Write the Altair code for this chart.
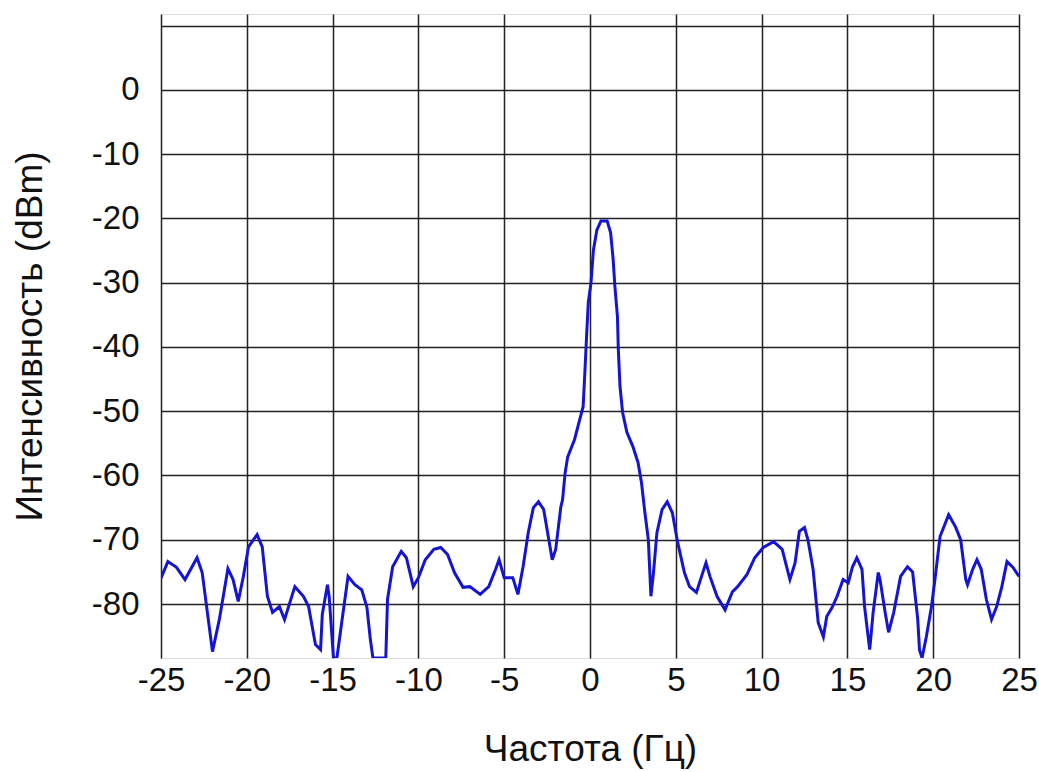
import altair as alt
import pandas as pd

freq = [-25.0, -24.6, -24.1, -23.6, -22.9, -22.6, -22.0, -21.6, -21.1, -20.8, -20.5, -20.2,
        -19.9, -19.4, -19.1, -18.8, -18.5, -18.1, -17.8, -17.2, -16.7, -16.4, -16.0, -15.7,
        -15.6, -15.3, -15.2, -14.95, -14.75, -14.5, -14.1, -13.7, -13.3, -13.0, -12.8, -12.65,
        -11.9, -11.8, -11.5, -11.0, -10.7, -10.3, -10.0, -9.6, -9.1, -8.7, -8.3, -7.9, -7.4,
        -7.0, -6.4, -5.9, -5.5, -5.3, -5.0, -4.5, -4.2, -3.9, -3.6, -3.3, -3.0, -2.7, -2.4,
        -2.2, -2.0, -1.7, -1.6, -1.45, -1.3, -0.9, -0.6, -0.4, -0.3, -0.2, -0.1, 0.06, 0.2,
        0.4, 0.64, 1.0, 1.2, 1.35, 1.45, 1.6, 1.65, 1.75, 1.9, 2.15, 2.5, 2.8, 3.0, 3.2, 3.4,
        3.55, 3.7, 3.9, 4.2, 4.5, 4.8, 5.1, 5.5, 5.8, 6.2, 6.5, 6.76, 6.99, 7.4, 7.87, 8.3,
        8.6, 9.15, 9.6, 10.1, 10.7, 11.2, 11.65, 11.95, 12.2, 12.5, 12.7, 13.0, 13.3, 13.6,
        13.8, 14.1, 14.4, 14.75, 15.05, 15.3, 15.55, 15.85, 16.0, 16.3, 16.5, 16.8, 16.9,
        17.2, 17.4, 17.7, 18.1, 18.5, 18.8, 19.1, 19.2, 19.35, 19.6, 19.9, 20.1, 20.4, 20.9,
        21.3, 21.6, 21.9, 22.0, 22.3, 22.55, 22.8, 23.1, 23.4, 23.7, 24.0, 24.3, 24.65, 25.0]

intensity = [-76.0, -73.4, -74.3, -76.2, -72.8, -75.1, -87.4, -82.4, -74.5, -76.2, -79.6, -75.7,
             -71.1, -69.2, -71.1, -78.8, -81.3, -80.4, -82.4, -77.3, -78.8, -80.4, -86.3, -87.1,
             -81.6, -77.0, -78.8, -88.4, -88.4, -83.5, -75.7, -77.0, -77.8, -80.5, -85.5, -88.4,
             -88.4, -79.3, -74.2, -71.8, -72.8, -77.3, -75.9, -73.1, -71.5, -71.2, -72.3, -75.1, -77.4,
             -77.3, -78.5, -77.3, -74.6, -73.1, -75.9, -75.9, -78.5, -74.2, -68.9, -65.0, -64.1, -65.3, -70.0,
             -73.1, -71.5, -64.9, -63.8, -59.6, -57.1, -54.4, -51.3, -49.3, -44.0, -38.4, -33.1, -30.0, -24.9,
             -21.8, -20.4, -20.4, -22.2, -26.4, -30.6, -35.3, -40.4, -46.2, -50.2, -53.3, -55.5, -58.0, -61.1, -65.8, -70.0,
             -78.8, -75.1, -68.9, -65.3, -64.1, -65.8, -70.3, -75.1, -77.3, -78.2, -75.7, -73.6, -75.7, -78.8, -80.9, -78.1,
             -77.3, -75.4, -72.8, -71.2, -70.3, -71.5, -76.2, -73.6, -68.7, -68.1, -70.0, -74.6, -82.9, -85.1,
             -81.9, -80.6, -78.8, -76.2, -76.7, -74.2, -72.8, -74.6, -80.4, -87.1, -81.3, -75.1, -76.2,
             -81.3, -84.4, -81.3, -75.7, -74.2, -75.0, -82.4, -87.1, -88.4, -85.1, -80.4, -76.2, -69.5, -66.1,
             -68.0, -70.0, -76.2, -77.0, -74.6, -73.1, -74.6, -79.3, -82.4, -80.4, -77.3, -73.4, -74.3, -75.7]

x_ticks = [-25, -20, -15, -10, -5, 0, 5, 10, 15, 20, 25]
y_ticks = [-80, -70, -60, -50, -40, -30, -20, -10, 0, 10]

df = pd.DataFrame({"f": freq, "v": intensity})

FONT = "Liberation Sans"
TXT = "#111111"

chart = alt.Chart(df).mark_line(color="#1414d2", strokeWidth=3, clip=True).encode(
    x=alt.X("f:Q", scale=alt.Scale(domain=[-25, 25], nice=False, zero=False),
            axis=alt.Axis(values=x_ticks, title="Частота (Гц)", grid=True, gridColor="#222222",
                          gridWidth=1.5, gridOpacity=1, domain=False, ticks=False,
                          labelExpr="'' + datum.value", labelFlush=False, labelOverlap=False,
                          labelFont=FONT, labelFontSize=33, labelColor=TXT, labelPadding=6,
                          titleFont=FONT, titleFontSize=37, titleFontWeight="normal",
                          titleColor=TXT, titlePadding=34)),
    y=alt.Y("v:Q", scale=alt.Scale(domain=[-88.4, 11.8], nice=False, zero=False),
            axis=alt.Axis(values=y_ticks, title="Интенсивность (dBm)", grid=True, gridColor="#222222",
                          gridWidth=1.5, gridOpacity=1, domain=False, ticks=False,
                          labelExpr="datum.value > 0 ? '' : '' + datum.value",
                          labelFlush=False, labelOverlap=False,
                          labelFont=FONT, labelFontSize=33, labelColor=TXT, labelPadding=22,
                          titleFont=FONT, titleFontSize=37, titleFontWeight="normal",
                          titleColor=TXT, titlePadding=42)),
).properties(
    width=858, height=644,
    autosize=alt.AutoSizeParams(type="none"),
    padding={"left": 161, "top": 14, "right": 20, "bottom": 114},
).configure_view(stroke="#000000", strokeWidth=3).configure(background="white")

chart.save("out.html", embed_options={"renderer": "svg", "actions": False})
